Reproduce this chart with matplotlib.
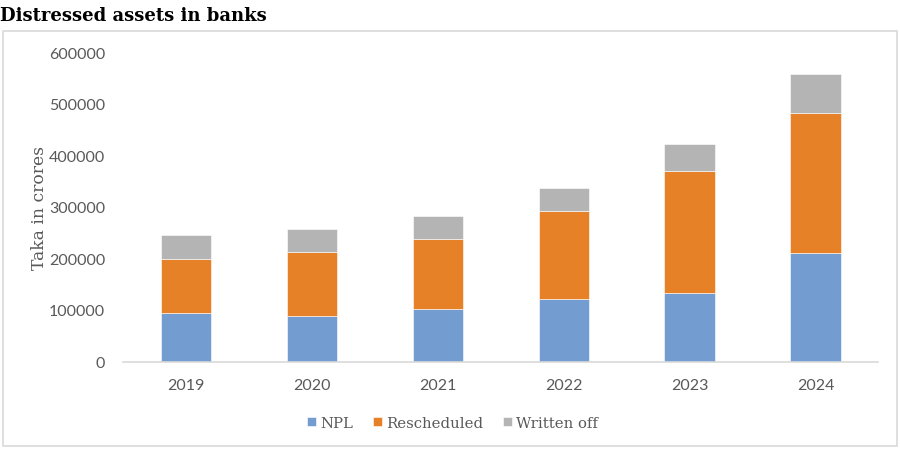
import numpy as np
import matplotlib.pyplot as plt
from matplotlib.patches import Rectangle

# distressed assets in banks, taka in crores
years = ['2019', '2020', '2021', '2022', '2023', '2024']
npl = [93500, 88300, 102400, 120700, 133000, 211000]
rescheduled = [105300, 124000, 134600, 171000, 236000, 272000]
written_off = [45900, 44700, 45000, 44600, 53600, 75000]

col_npl = '#739cd1'
col_res = '#e68127'
col_wo = '#b4b4b4'
txt_gray = '#595959'

fig = plt.figure(figsize=(9, 4.52), dpi=100)

# outer chart border like the excel chart area
fig.patches.append(Rectangle((0.003, 0.012), 0.994, 0.918, transform=fig.transFigure,
                             fill=False, edgecolor='#d9d9d9', linewidth=1.2))

fig.text(0.0, 0.965, 'Distressed assets in banks', fontsize=13, fontweight='heavy',
         family='DejaVu Serif', va='center', ha='left')

ax = fig.add_axes([0.137, 0.198, 0.839, 0.684])

x = np.arange(len(years))
w = 0.4
bottom2 = np.array(npl)
bottom3 = bottom2 + np.array(rescheduled)
ax.bar(x, npl, w, color=col_npl, label='NPL', edgecolor='white', linewidth=0.4)
ax.bar(x, rescheduled, w, bottom=bottom2, color=col_res, label='Rescheduled',
       edgecolor='white', linewidth=0.4)
ax.bar(x, written_off, w, bottom=bottom3, color=col_wo, label='Written off',
       edgecolor='white', linewidth=0.4)

ax.set_xlim(-0.5, len(years) - 0.5)
ax.set_ylim(0, 600000)
ax.set_yticks(range(0, 600001, 100000))
ax.set_yticklabels([str(v) for v in range(0, 600001, 100000)])
ax.set_xticks(x)
ax.set_xticklabels(years)

for s in ['top', 'right', 'left']:
    ax.spines[s].set_visible(False)
ax.spines['bottom'].set_color('#d9d9d9')
ax.spines['bottom'].set_linewidth(1.2)
ax.tick_params(length=0, labelsize=11.5, labelcolor=txt_gray, pad=13)
ax.tick_params(axis='x', pad=12)
for lab in ax.get_xticklabels() + ax.get_yticklabels():
    lab.set_family('Lato')

ax.set_ylabel('Taka in crores', fontsize=12.3, family='DejaVu Serif', color=txt_gray,
              labelpad=2)
ax.yaxis.set_label_coords(-0.1, 0.5)

leg = fig.legend(loc='center', bbox_to_anchor=(0.503, 0.062), ncol=3, frameon=False,
                 prop={'family': 'DejaVu Serif', 'size': 10.7},
                 handlelength=0.6, handleheight=0.6, handletextpad=0.3,
                 columnspacing=1.3)
for t in leg.get_texts():
    t.set_color(txt_gray)

fig.savefig('out.png', dpi=100)
